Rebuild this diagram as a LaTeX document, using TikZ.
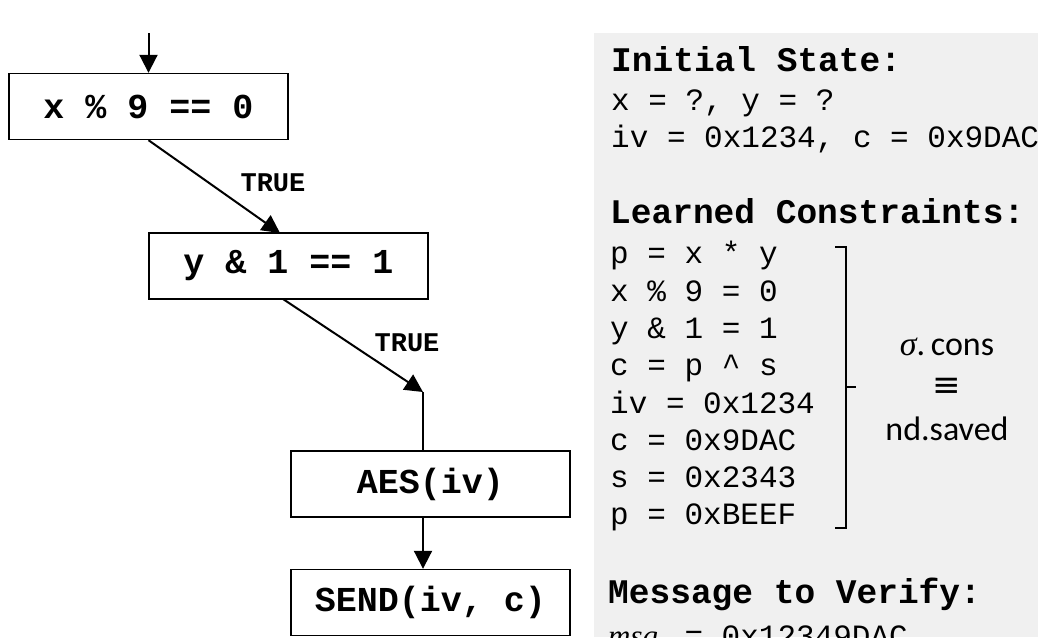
\documentclass[tikz,border=0pt]{standalone}
\usepackage{fontspec}
\setmonofont{Liberation Mono}
\newfontfamily\calibri{Carlito}
\newfontfamily\serifmath{Liberation Serif}
\newfontfamily\symfont{DejaVu Sans}
\usetikzlibrary{arrows.meta}
\definecolor{panelgray}{RGB}{240,240,240}
\tikzset{
  flowbox/.style={draw=black, line width=1.4pt, minimum width=279pt, minimum height=66pt, inner sep=0pt,
    font=\ttfamily\bfseries\fontsize{35}{40}\selectfont},
  flowarrow/.style={line width=2pt, -{Triangle[length=18pt,width=18pt]}},
  flowline/.style={line width=2pt},
  edgelabel/.style={font=\ttfamily\bfseries\fontsize{27}{30}\selectfont, inner sep=0pt},
  headtext/.style={anchor=base west, inner sep=0pt, font=\ttfamily\bfseries\fontsize{34.5}{40}\selectfont},
  codetext/.style={anchor=base west, inner sep=0pt, font=\ttfamily\fontsize{31}{36}\selectfont},
  sidetext/.style={anchor=base, inner sep=0pt, font=\calibri\fontsize{34}{38}\selectfont},
}
\begin{document}
\begin{tikzpicture}[x=1pt,y=-1pt]
\clip (0,0) rectangle (1038,637);
\fill[white] (0,0) rectangle (1038,637);
% panel
\fill[panelgray] (594,33) rectangle (1038,637);

% flowchart
\coordinate (start) at (148.5,33);
\node[flowbox] (b1) at (148.5,106.5) {x \% 9 == 0};
\node[flowbox] (b2) at (288.5,266) {y \& 1 == 1};
\node[flowbox] (aes) at (430.5,484) {AES(iv)};
\node[flowbox] (send) at (430.5,602.5) {SEND(iv, c)};
\coordinate (bend) at (423,392);

\draw[flowarrow] (start) -- (b1.north);
\draw[flowarrow] (b1.south) -- (280,233);
\draw[flowarrow] (283,299) -- (bend);
\draw[flowline] (bend) -- (bend |- aes.north);
\draw[flowarrow] (aes.south -| bend) -- (send.north -| bend);

\node[edgelabel] (t1) at (273,183) {TRUE};
\node[edgelabel] (t2) at (407,343) {TRUE};

% panel text
\node[headtext] (h1) at (611,71) {Initial State:};
\node[codetext] (l1) at (611,110) {x = ?, y = ?};
\node[codetext] (l2) at (611,147) {iv = 0x1234, c = 0x9DAC};
\node[headtext] (h2) at (610,223) {Learned Constraints:};
\node[codetext] (c1) at (610,263) {p = x * y};
\node[codetext] (c2) at (610,301) {x \% 9 = 0};
\node[codetext] (c3) at (610,338) {y \& 1 = 1};
\node[codetext] (c4) at (610,375) {c = p \^{} s};
\node[codetext] (c5) at (610,413) {iv = 0x1234};
\node[codetext] (c6) at (610,450) {c = 0x9DAC};
\node[codetext] (c7) at (610,487) {s = 0x2343};
\node[codetext] (c8) at (610,524) {p = 0xBEEF};

% bracket
\coordinate (brt) at (835,247);
\coordinate (brb) at (835,528);
\draw[line width=2.6pt] (brt) -- (846,247) -- (846,528) -- (brb);
\coordinate (brm) at (846,387);
\draw[line width=2.6pt] (brm) -- (856,387);

\node[sidetext] (s1) at (947,355) {{\serifmath\itshape σ}.\,cons};
\node[sidetext, anchor=center] (s2) at (947,387) {{\symfont ≡}};
\node[sidetext] (s3) at (947,440) {nd.saved};

\node[headtext] (h3) at (608,603) {Message to Verify:};
\node[codetext] (m1) at (608,646) {{\serifmath\itshape msg\raisebox{-5pt}{\fontsize{20}{22}\selectfont s}} = 0x12349DAC};
\end{tikzpicture}
\end{document}
